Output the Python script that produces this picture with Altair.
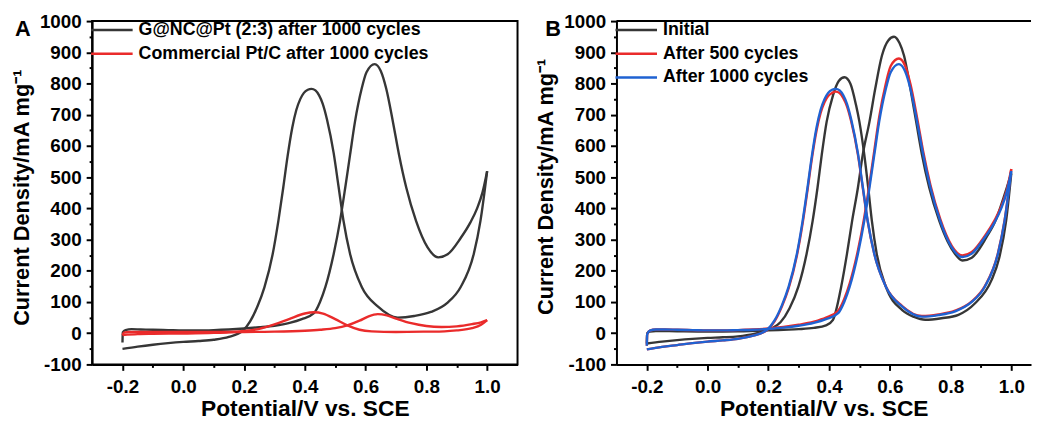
import altair as alt
import pandas as pd

FONT = "Liberation Sans"

# ---------------- Panel B (also used for panel A's G@NC@Pt curve) ----------------
B_SERIES = ["Initial", "After 500 cycles", "After 1000 cycles"]
B_COLORS = ["#363636", "#ea2b2b", "#1f62d2"]

# Initial
B_INI_FWD_V = [-0.2, -0.199, -0.19, -0.17, -0.1, 0.0, 0.1, 0.2, 0.25, 0.3, 0.35, 0.39, 0.413, 0.44, 0.459, 0.476,
               0.495, 0.511, 0.533, 0.552, 0.574, 0.595, 0.614, 0.632, 0.647, 0.668, 0.687, 0.706, 0.73, 0.763,
               0.79, 0.815, 0.839, 0.87, 0.918, 0.95, 0.975, 1.0]
B_INI_FWD_J = [-33, 0, 5, 7, 6, 5, 6, 9, 11, 13, 17, 25, 43, 149, 254, 360,
               466, 572, 677, 783, 889, 938, 950, 930, 889, 783, 677, 572, 466, 360,
               295, 254, 233, 242, 307, 365, 435, 512]
B_INI_REV_V = [-0.2, -0.15, -0.1, -0.05, 0.0, 0.05, 0.1, 0.15, 0.18, 0.21, 0.24, 0.27, 0.299, 0.326, 0.346,
               0.362, 0.376, 0.392, 0.413, 0.432, 0.451, 0.47, 0.489, 0.5, 0.516, 0.529, 0.541, 0.557, 0.587,
               0.641, 0.68, 0.717, 0.77, 0.826, 0.88, 0.935, 0.96, 0.983, 1.0]
B_INI_REV_J = [-33, -27, -22, -18, -15, -13, -10, -3, 5, 15, 35, 80, 149, 254, 360,
               466, 572, 677, 762, 808, 820, 800, 730, 677, 572, 466, 360, 254, 149,
               74, 52, 43, 48, 59, 95, 170, 240, 360, 512]

# After 500 / After 1000 cycles (shared potential grids)
B_FWD_V = [-0.2, -0.199, -0.19, -0.17, -0.14, -0.1, -0.05, 0.0, 0.05, 0.1, 0.15, 0.2, 0.25, 0.3, 0.35, 0.39,
           0.43, 0.45, 0.468, 0.495, 0.516, 0.533, 0.549, 0.565, 0.587, 0.603, 0.63, 0.65, 0.668, 0.69, 0.71,
           0.734, 0.766, 0.804, 0.839, 0.87, 0.913, 0.945, 0.967, 0.985, 1.0]
B_500_FWD_J = [-40, -4, 8, 12, 12, 11, 10, 9, 9, 10, 12, 15, 20, 27, 37, 50,
               72, 110, 160, 265, 372, 478, 585, 692, 800, 856, 880, 858, 798, 690, 582,
               474, 366, 280, 249, 260, 312, 362, 406, 458, 526]
B_1000_FWD_J = [-40, -4, 8, 12, 12, 11, 10, 9, 9, 10, 11, 14, 18, 24, 33, 45,
                64, 100, 149, 254, 360, 466, 572, 677, 783, 836, 862, 840, 783, 677, 572,
                466, 360, 275, 244, 255, 307, 355, 400, 452, 519]
B_REV_V = [-0.2, -0.15, -0.1, -0.05, 0.0, 0.05, 0.1, 0.15, 0.196, 0.22, 0.245, 0.267, 0.294, 0.313, 0.329, 0.343,
           0.359, 0.372, 0.385, 0.397, 0.41, 0.422, 0.435, 0.447, 0.459, 0.473, 0.495, 0.511, 0.527, 0.549, 0.587,
           0.641, 0.706, 0.76, 0.815, 0.87, 0.913, 0.956, 0.978, 1.0]
B_500_REV_J = [-52, -44, -38, -32, -27, -23, -18, -8, 10, 37, 86, 144, 248, 352, 458, 556,
               650, 705, 740, 760, 770, 774, 769, 753, 727, 678, 572, 466, 359, 254, 150,
               87, 55, 60, 72, 102, 151, 256, 362, 526]
B_1000_REV_J = [-52, -44, -38, -32, -27, -23, -18, -8, 11, 40, 90, 149, 254, 360, 466, 565,
                660, 715, 750, 770, 780, 783, 778, 762, 735, 685, 577, 470, 362, 254, 149,
                85, 53, 58, 70, 100, 149, 254, 360, 519]

# ---------------- Panel A ----------------
A_SERIES = ["G@NC@Pt (2:3) after 1000 cycles", "Commercial Pt/C after 1000 cycles"]
A_COLORS = ["#363636", "#ea2b2b"]

# G@NC@Pt (2:3) after 1000 cycles: same measurement as panel B "After 1000 cycles"
A_GNC_FWD_V = B_FWD_V
A_GNC_FWD_J = [-30, 3, 10, 13, 12, 11, 10, 9, 9, 10, 12, 15, 19, 24, 33, 45,
               64, 100, 149, 254, 360, 466, 572, 677, 783, 836, 862, 840, 783, 677, 572,
               466, 360, 275, 243, 253, 305, 355, 400, 452, 519]
A_GNC_REV_V = B_REV_V
A_GNC_REV_J = [-50, -43, -37, -32, -28, -25, -21, -12, 8, 38, 88, 147, 252, 360, 466, 565,
               660, 715, 750, 770, 780, 783, 778, 762, 735, 685, 577, 470, 362, 254, 149,
               85, 50, 55, 68, 98, 148, 254, 360, 519]

# Commercial Pt/C after 1000 cycles
A_PTC_FWD_V = [-0.2, -0.195, -0.18, -0.1, 0.0, 0.1, 0.2, 0.3, 0.4, 0.45, 0.5, 0.54, 0.58, 0.61, 0.64, 0.67, 0.7,
               0.75, 0.8, 0.85, 0.9, 0.95, 0.98, 1.0]
A_PTC_FWD_J = [-6, 2, 4, 4, 4, 4, 4, 5, 8, 11, 16, 25, 40, 54, 61, 57, 47,
               32, 23, 20, 22, 29, 35, 42]
A_PTC_REV_V = [-0.2, -0.15, -0.1, 0.0, 0.1, 0.15, 0.2, 0.25, 0.3, 0.35, 0.4, 0.43, 0.46, 0.5, 0.54, 0.58, 0.62,
               0.7, 0.8, 0.86, 0.9, 0.95, 0.98, 1.0]
A_PTC_REV_J = [-6, -3, -2, -1, 1, 3, 7, 14, 28, 46, 63, 67, 63, 45, 25, 11, 6,
               4, 5, 6, 9, 16, 27, 42]

X_TICKS = [-0.2, -0.1, 0.0, 0.1, 0.2, 0.3, 0.4, 0.5, 0.6, 0.7, 0.8, 0.9, 1.0]
Y_TICKS = list(range(-100, 1001, 50))


def curve(series, branch, vs, js):
    return pd.DataFrame({"v": vs, "j": js, "series": series, "branch": branch})


X_MAJOR = "abs(datum.value*5 - round(datum.value*5)) < 0.01"
Y_MAJOR = "abs(datum.value % 100) < 0.5"

x_axis = alt.Axis(
    values=X_TICKS,
    labelExpr="(" + X_MAJOR + ") ? (datum.value < -0.001 ? '-' + format(-datum.value, '.1f') : format(abs(datum.value), '.1f')) : ''",
    tickSize={"condition": {"test": X_MAJOR, "value": 6}, "value": 3},
    title="Potential/V vs. SCE",
    titleFontSize=23,
    labelPadding=7,
    titlePadding=2,
)


def y_axis(title_y):
    return alt.Axis(
        values=Y_TICKS,
        labelExpr="(" + Y_MAJOR + ") ? (datum.value < 0 ? '-' + format(-datum.value, 'd') : format(datum.value, 'd')) : ''",
        tickSize={"condition": {"test": Y_MAJOR, "value": 6}, "value": 3},
        title="Current Density/mA mg⁻¹",
        titleFontSize=22,
        titleY=title_y,
        labelPadding=5,
        titlePadding=6,
    )


def panel(curves, series, colors, xdom, width, letter, letter_dx, title_y):
    xs = alt.Scale(domain=xdom, nice=False, zero=False)
    ys = alt.Scale(domain=[-100, 1000], nice=False, zero=False)
    color = alt.Color(
        "series:N",
        sort=series,
        scale=alt.Scale(domain=series, range=colors),
        legend=alt.Legend(
            orient="none", legendX=11, legendY=0, title=None,
            symbolType="M-4,0H4", symbolSize=110, symbolStrokeWidth=2.5,
            labelFont=FONT, labelFontSize=18, labelFontWeight="bold", labelColor="black",
            labelOffset=18, rowPadding=6, padding=0, labelLimit=600,
        ),
    )
    yax = y_axis(title_y)
    layers = []
    for df in curves:
        layers.append(
            alt.Chart(df).mark_line(strokeWidth=2.4, interpolate="monotone").encode(
                x=alt.X("v:Q", scale=xs, axis=x_axis),
                y=alt.Y("j:Q", scale=ys, axis=yax),
                color=color,
                detail="branch:N",
            )
        )
    letter_layer = alt.Chart(pd.DataFrame({"t": [letter]})).mark_text(
        font=FONT, fontSize=22, fontWeight="bold", align="center", baseline="alphabetic", color="black"
    ).encode(text="t:N", x=alt.value(letter_dx), y=alt.value(15))
    layers.append(letter_layer)
    return alt.layer(*layers).properties(width=width, height=347)


panel_a = panel(
    [
        curve(A_SERIES[0], "fwd", A_GNC_FWD_V, A_GNC_FWD_J),
        curve(A_SERIES[0], "rev", A_GNC_REV_V, A_GNC_REV_J),
        curve(A_SERIES[1], "fwd", A_PTC_FWD_V, A_PTC_FWD_J),
        curve(A_SERIES[1], "rev", A_PTC_REV_V, A_PTC_REV_J),
    ],
    A_SERIES, A_COLORS, [-0.3, 1.1], 430, "A", -70, 178,
)

frame_top = alt.Chart(pd.DataFrame({"k": [0]})).mark_rule(color="black", strokeWidth=2).encode(
    x=alt.value(0), x2=alt.value(419), y=alt.value(0)
)

panel_b = panel(
    [
        curve(B_SERIES[0], "fwd", B_INI_FWD_V, B_INI_FWD_J),
        curve(B_SERIES[0], "rev", B_INI_REV_V, B_INI_REV_J),
        curve(B_SERIES[1], "fwd", B_FWD_V, B_500_FWD_J),
        curve(B_SERIES[1], "rev", B_REV_V, B_500_REV_J),
        curve(B_SERIES[2], "fwd", B_FWD_V, B_1000_FWD_J),
        curve(B_SERIES[2], "rev", B_REV_V, B_1000_REV_J),
    ],
    B_SERIES, B_COLORS, [-0.3, 1.065], 419, "B", -64, 167,
)
panel_b = alt.layer(panel_b, frame_top).properties(view=alt.ViewBackground(strokeOpacity=0))

chart = alt.hconcat(panel_a, panel_b, spacing=16).resolve_scale(color="independent").properties(
    padding={"left": 1, "top": 1, "right": 0, "bottom": 0}
).configure_view(
    stroke="black", strokeWidth=2
).configure_axis(
    grid=False,
    domainColor="black", domainWidth=2,
    tickColor="black", tickWidth=2,
    labelFont=FONT, labelFontSize=19, labelFontWeight="bold", labelColor="black",
    labelOverlap=False, labelFlush=False,
    titleFont=FONT, titleFontWeight="bold", titleColor="black",
)

chart.save("out.html", embed_options={"renderer": "svg", "actions": False})
